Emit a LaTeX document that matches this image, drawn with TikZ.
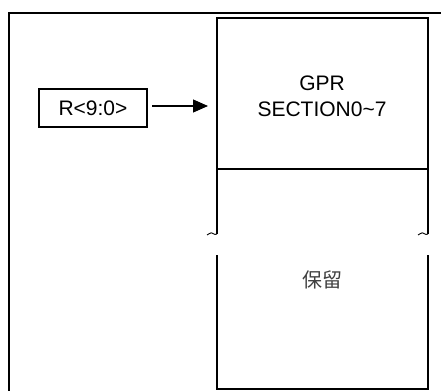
\documentclass[tikz,border=0pt]{standalone}
\usepackage{fontspec}
\setmainfont{Liberation Sans}
\newfontfamily\cjk{Noto Sans CJK SC}
\usetikzlibrary{arrows.meta}
\begin{document}
\begin{tikzpicture}[x=1pt,y=-1pt,
  frame/.style={line width=1.6pt},
  thin/.style={line width=1.1pt},
  lbl/.style={font=\fontsize{21}{26}\selectfont, align=center, inner sep=0pt},
  tick/.style={line width=0.9pt}]
\useasboundingbox (0,0) rectangle (441,391);
% outer frame (clipped)
\draw[frame] (441,13) -- (9,13) -- (9,391);
% register box
\node[draw, thin, minimum width=108pt, minimum height=38pt, inner sep=0pt, lbl] (r) at (93,108) {R<9:0>};
% GPR section box
\node[draw, thin, minimum width=211pt, minimum height=151pt, inner sep=0pt] (gpr) at (322.5,93.5) {};
\node[lbl] (gprt) at (322,96) {GPR\\SECTION0\textasciitilde 7};
% arrow
\coordinate (ae) at (208,106);
\draw[thin, -{Triangle[length=15pt,width=13pt]}] (152,106) -- (ae);
% lower reserved region
\coordinate (l1) at (217,169);
\coordinate (l2) at (217,234);
\coordinate (r1) at (428,169);
\coordinate (r2) at (428,234);
\coordinate (l3) at (217,255);
\coordinate (l4) at (217,389);
\coordinate (r3) at (428,255);
\coordinate (r4) at (428,389);
\draw[thin] (l1) -- (l2);
\draw[thin] (r1) -- (r2);
\draw[thin] (l3) -- (l4) -- (r4) -- (r3);
% tildes
\draw[tick] (l2) .. controls (214,236) and (212,231) .. (209.5,233.5) .. controls (208.5,234.5) .. (207,235);
\draw[tick] (r2) .. controls (425,236) and (423,231) .. (420.5,233.5) .. controls (419.5,234.5) .. (418,235);
\node[font=\cjk\fontsize{20}{24}\selectfont, text=black!75, inner sep=0pt] (res) at (322,280) {保留};
\end{tikzpicture}
\end{document}
